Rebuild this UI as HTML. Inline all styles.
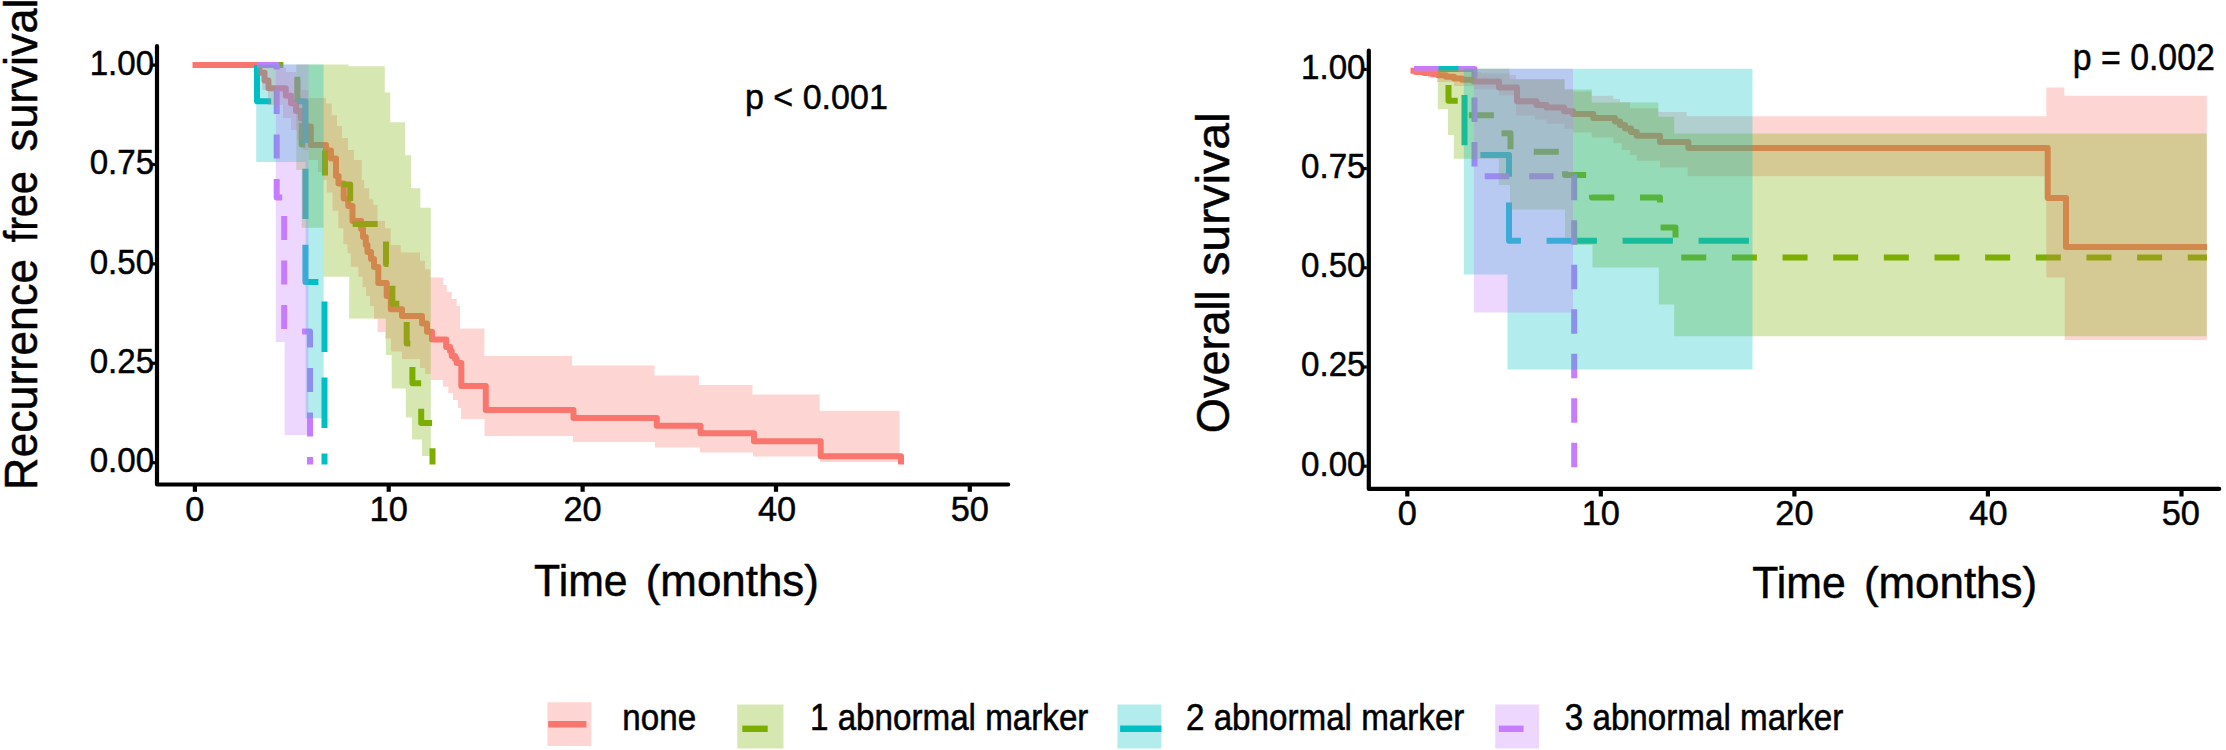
<!DOCTYPE html>
<html lang="en"><head><meta charset="utf-8"><title>Survival curves</title>
<style>html,body{margin:0;padding:0;background:#fff}body{width:2226px;height:750px;overflow:hidden}svg{display:block}</style></head>
<body>
<svg width="2226" height="750" viewBox="0 0 2226 750"><rect width="2226" height="750" fill="#fff"/>
<g fill="none" stroke-width="6.0" stroke-linejoin="round" stroke-linecap="butt">
<path d="M192.5 65.1H259.5V72.7H264.5V80.4H268.5V88.3H285.8V95.7H291V103.3H296V111H300.8V118.6H305V126.5H310.8V145H326V150.5H331V158.5H336V176H338.5V183.5H343.7V198.5H348.3V206H352.5V221H361.2V229H363V237H365.8V245H367.5V252H371V259H374V267H378.3V283H386.7V296H390.8V309.2H402V316H422V323.5H427V331.7H432V339.4H446.2V347H450V351H451.7V356H455V359H456.7V363H461.3V386H485.8V410H573.5V418H656.8V425.7H700.5V433.2H754V441.3H820.7V456.3H901V464.5" stroke="#F8766D"/>
<path d="M258.4 65.1H297.3V104.9H301.7V144.6H325V184.4H350.2V224.1H386V263.9H392.4V303.7H406.7V343.4H412.4V383.2H421.2V422.9H432.5V464.5" stroke="#7CAE00" stroke-dasharray="25 25.65"/>
<path d="M257 65.1V101.2H305.4V282H324.5V464.5" stroke="#00BFC4" stroke-dasharray="50.3 25.7"/>
<path d="M257 65.1H276.7V197.4H284.2V331.5H310V464.5" stroke="#C77CFF" stroke-dasharray="24 20.5"/>
<path d="M1410.5 70.8H1416V72H1424V73H1432V74H1438V75.2H1446V76.8H1454V78.4H1462V79.8H1474V81.5H1499V87.5H1517V101.2H1536.5V105H1546.5V107.5H1564V111.3H1573V114H1593.3V118H1615V121.5H1620V125H1625V128.5H1631V132H1636.7V135.8H1660V142H1688.3V148H2047.7V198H2066V247H2207" stroke="#F8766D"/>
<path d="M1414 68.9H1438.5V84.7H1448.5V100.8H1464V115.3H1499V133.3H1510.5V151.7H1565V175H1592V197.5H1660V227.5H1675.5V257.5H2207" stroke="#7CAE00" stroke-dasharray="25 25.65"/>
<path d="M1414.5 68.9H1464.5V155H1509V240.8H1752" stroke="#00BFC4" stroke-dasharray="50.3 25.7"/>
<path d="M1414 68.9H1474.5V176.2H1574.2V467.5" stroke="#C77CFF" stroke-dasharray="24.5 20"/>
</g>
<g stroke="none" fill-opacity="0.3">
<path d="M257 65.1L272 65.1L272 68L286 68L286 72L296 72L296 80L301 80L301 90L308.6 90L308.6 98L326 98L326 103.5L331.7 103.5L331.7 115.3L337 115.3L337 126L342 126L342 138L348 138L348 150L354 150L354 160L361.7 160L361.7 180L364.2 180L364.2 188.3L369.2 188.3L369.2 199.2L373.3 199.2L373.3 205L377.5 205L377.5 220.8L385 220.8L385 228.3L390.8 228.3L390.8 245L400.8 245L400.8 252.5L420 252.5L420 260.8L425 260.8L425 269.2L430.5 269.2L430.5 277.5L443.3 277.5L443.3 285L446.7 285L446.7 292L451.7 292L451.7 299L456.7 299L456.7 306L460 306L460 328.5L484.4 328.5L484.4 356L572 356L572 365.5L654.5 365.5L654.5 375.5L699 375.5L699 385L752.5 385L752.5 394.5L819.7 394.5L819.7 410.7L899.5 410.7L899.5 462L820 462L820 456.5L753 456.5L753 452.5L700 452.5L700 447.5L655 447.5L655 442L573 442L573 436L484.5 436L484.5 419L461 419L461 408L458 408L458 400L453 400L453 393L448.3 393L448.3 386.7L443 386.7L443 380L430.8 380L430.8 374L425 374L425 368L420 368L420 359L402 359L402 351.5L391 351.5L391 338.4L385.3 338.4L385.3 332L377.5 332L377.5 319L374 319L374 306L370 306L370 296L366 296L366 287L362.5 287L362.5 276.7L358.3 276.7L358.3 266.7L350.8 266.7L350.8 253.3L347.5 253.3L347.5 244.2L343.3 244.2L343.3 228.3L338.3 228.3L338.3 210.8L332.5 210.8L332.5 192.5L326.7 192.5L326.7 180L323.3 180L323.3 172L318 172L318 160L308.6 160L308.6 150L303 150L303 140L297 140L297 130L291 130L291 118L283 118L283 105L268 105L268 90L262 90L262 75L257 75Z" fill="#F8766D"/>
<path d="M296.3 64.6L348.5 64.6L348.5 66.2L384.8 66.2L384.8 92.4L390.3 92.4L390.3 122.3L405.2 122.3L405.2 155.2L411 155.2L411 188.2L420.4 188.2L420.4 207.8L430.8 207.8L430.8 456L422 456L422 439.5L412 439.5L412 417.5L405.8 417.5L405.8 388.5L391.7 388.5L391.7 355L385.8 355L385.8 318.5L349.2 318.5L349.2 276.7L323.5 276.7L323.5 227.7L301.7 227.7L301.7 170L296.3 170Z" fill="#7CAE00"/>
<path d="M256.2 64.6L323.6 64.6L323.6 418.3L305.6 418.3L305.6 162L256.2 162Z" fill="#00BFC4"/>
<path d="M275.8 64.6L308.5 64.6L308.5 435L284.6 435L284.6 342L275.8 342Z" fill="#C77CFF"/>
<path d="M1412 68.8L1437 68.8L1437 70L1463 70L1463 72L1481 72L1481 73.5L1509.5 73.5L1509.5 75L1516 75L1516 79.3L1564.6 79.3L1564.6 89.3L1573 89.3L1573 91.5L1591.7 91.5L1591.7 95.8L1613.3 95.8L1613.3 99L1620 99L1620 102L1630 102L1630 108.3L1658.3 108.3L1658.3 112L1686.7 112L1686.7 116.3L2046.3 116.3L2046.3 87.4L2064.4 87.4L2064.4 95.7L2206.8 95.7L2206.8 340L2064.7 340L2064.7 277.5L2046.3 277.5L2046.3 176.2L1687.5 176.2L1687.5 167.5L1660 167.5L1660 160.8L1636.7 160.8L1636.7 155L1630 155L1630 150L1621.7 150L1621.7 143.3L1613.3 143.3L1613.3 137.5L1591.7 137.5L1591.7 132.5L1573 132.5L1573 128.8L1564.6 128.8L1564.6 123.8L1546.5 123.8L1546.5 119.4L1535 119.4L1535 115.6L1516 115.6L1516 95.6L1499 95.6L1499 89.3L1474 89.3L1474 86L1454 86L1454 82L1437 82L1437 78L1428 78L1428 74.5L1412 74.5Z" fill="#F8766D"/>
<path d="M1437.8 68.8L1509.5 68.8L1509.5 79.3L1564.6 79.3L1564.6 89.5L1591.7 89.5L1591.7 102.5L1658.3 102.5L1658.3 116.7L1674.2 116.7L1674.2 133.5L2206.8 133.5L2206.8 336.3L1674.2 336.3L1674.2 304.5L1658.8 304.5L1658.8 267.5L1592.5 267.5L1592.5 245L1573 245L1573 237.5L1565 237.5L1565 209.5L1510 209.5L1510 185L1498.8 185L1498.8 158.8L1453.8 158.8L1453.8 135L1448 135L1448 109.3L1437.8 109.3Z" fill="#7CAE00"/>
<path d="M1463.8 68.7L1752.5 68.7L1752.5 369.5L1507.5 369.5L1507.5 274.5L1463.8 274.5Z" fill="#00BFC4"/>
<path d="M1473.8 68.7L1573 68.7L1573 312.5L1473.8 312.5Z" fill="#C77CFF"/>
</g>
<g stroke="#000" fill="none" stroke-linecap="butt">
<path d="M157 46.2V484.5H1008.2" stroke-width="4.2" stroke-linejoin="round" stroke-linecap="round"/>
<path d="M194.9 486V491.8" stroke-width="4.2"/>
<path d="M388.7 486V491.8" stroke-width="4.2"/>
<path d="M582.6 486V491.8" stroke-width="4.2"/>
<path d="M776 486V491.8" stroke-width="4.2"/>
<path d="M969.8 486V491.8" stroke-width="4.2"/>
<path d="M151.3 65.1H155" stroke-width="3.2"/>
<path d="M151.3 164.5H155" stroke-width="3.2"/>
<path d="M151.3 263.9H155" stroke-width="3.2"/>
<path d="M151.3 363.3H155" stroke-width="3.2"/>
<path d="M151.3 462.7H155" stroke-width="3.2"/>
<path d="M1368.8 50.6V488.9H2219.2" stroke-width="4.2" stroke-linejoin="round" stroke-linecap="round"/>
<path d="M1407.3 490.5V496.5" stroke-width="4.2"/>
<path d="M1600.8 490.5V496.5" stroke-width="4.2"/>
<path d="M1794.4 490.5V496.5" stroke-width="4.2"/>
<path d="M1987.9 490.5V496.5" stroke-width="4.2"/>
<path d="M2181.5 490.5V496.5" stroke-width="4.2"/>
<path d="M1363 69.4H1366.8" stroke-width="3.2"/>
<path d="M1363 168.6H1366.8" stroke-width="3.2"/>
<path d="M1363 267.8H1366.8" stroke-width="3.2"/>
<path d="M1363 367H1366.8" stroke-width="3.2"/>
<path d="M1363 466.2H1366.8" stroke-width="3.2"/>
</g>
<g>
<rect x="547.4" y="702.3" width="44" height="43.7" fill="#F8766D" fill-opacity="0.3"/>
<rect x="737.3" y="704.5" width="46.2" height="44" fill="#7CAE00" fill-opacity="0.3"/>
<rect x="1117.4" y="704.5" width="44" height="44" fill="#00BFC4" fill-opacity="0.3"/>
<rect x="1495.2" y="704.5" width="43.8" height="44" fill="#C77CFF" fill-opacity="0.3"/>
<g stroke-width="6.4" fill="none">
<path d="M548.2 724.3H586.4" stroke="#F8766D"/>
<path d="M742.3 728.8H767.7" stroke="#7CAE00"/>
<path d="M1120.1 728.8H1161.4" stroke="#00BFC4"/>
<path d="M1498.8 728.8H1523.6" stroke="#C77CFF"/>
</g></g>
<g font-family="'Liberation Sans', sans-serif" fill="#000" stroke="#000" stroke-width="0.5">
<g font-size="35.4" text-anchor="end">
<text x="154.2" y="74.7" textLength="64.5" lengthAdjust="spacingAndGlyphs">1.00</text>
<text x="154.2" y="174.1" textLength="64.5" lengthAdjust="spacingAndGlyphs">0.75</text>
<text x="154.2" y="273.5" textLength="64.5" lengthAdjust="spacingAndGlyphs">0.50</text>
<text x="154.2" y="372.9" textLength="64.5" lengthAdjust="spacingAndGlyphs">0.25</text>
<text x="154.2" y="472.3" textLength="64.5" lengthAdjust="spacingAndGlyphs">0.00</text>
<text x="1365.5" y="78.8" textLength="64.5" lengthAdjust="spacingAndGlyphs">1.00</text>
<text x="1365.5" y="178" textLength="64.5" lengthAdjust="spacingAndGlyphs">0.75</text>
<text x="1365.5" y="277.2" textLength="64.5" lengthAdjust="spacingAndGlyphs">0.50</text>
<text x="1365.5" y="376.4" textLength="64.5" lengthAdjust="spacingAndGlyphs">0.25</text>
<text x="1365.5" y="475.6" textLength="64.5" lengthAdjust="spacingAndGlyphs">0.00</text>
</g>
<g font-size="35.8" text-anchor="middle">
<text x="194.9" y="520.8" textLength="19.1" lengthAdjust="spacingAndGlyphs">0</text>
<text x="388.7" y="520.8" textLength="38.2" lengthAdjust="spacingAndGlyphs">10</text>
<text x="582.6" y="520.8" textLength="38.2" lengthAdjust="spacingAndGlyphs">20</text>
<text x="777" y="520.8" textLength="38.2" lengthAdjust="spacingAndGlyphs">40</text>
<text x="969.8" y="520.8" textLength="38.2" lengthAdjust="spacingAndGlyphs">50</text>
<text x="1407.3" y="524.7" textLength="19.1" lengthAdjust="spacingAndGlyphs">0</text>
<text x="1600.8" y="524.7" textLength="38.2" lengthAdjust="spacingAndGlyphs">10</text>
<text x="1794.4" y="524.7" textLength="38.2" lengthAdjust="spacingAndGlyphs">20</text>
<text x="1988.4" y="524.7" textLength="38.2" lengthAdjust="spacingAndGlyphs">40</text>
<text x="2180.8" y="524.7" textLength="38.2" lengthAdjust="spacingAndGlyphs">50</text>
</g>
<text font-size="44.3" y="596"><tspan x="534.1" textLength="93.5" lengthAdjust="spacingAndGlyphs">Time</tspan> <tspan x="645.7" textLength="173.2" lengthAdjust="spacingAndGlyphs">(months)</tspan></text>
<text font-size="44.3" y="597.6"><tspan x="1752.3" textLength="93.5" lengthAdjust="spacingAndGlyphs">Time</tspan> <tspan x="1863.9" textLength="173.2" lengthAdjust="spacingAndGlyphs">(months)</tspan></text>
<text font-size="45.5" transform="translate(37.3 0) rotate(-90)" lengthAdjust="spacingAndGlyphs"><tspan x="-489.9" textLength="231" lengthAdjust="spacingAndGlyphs">Recurrence</tspan> <tspan x="-242.2" textLength="71" lengthAdjust="spacingAndGlyphs">free</tspan> <tspan x="-151.4" textLength="153" lengthAdjust="spacingAndGlyphs">survival</tspan></text>
<text font-size="46.5" transform="translate(1229 0) rotate(-90)"><tspan x="-433.2" textLength="142.8" lengthAdjust="spacingAndGlyphs">Overall</tspan> <tspan x="-275.8" textLength="163.6" lengthAdjust="spacingAndGlyphs">survival</tspan></text>
<text font-size="35.3" x="745" y="108.7" textLength="142.8" lengthAdjust="spacingAndGlyphs">p &lt; 0.001</text>
<text font-size="36" x="2072.8" y="70.3" textLength="142" lengthAdjust="spacingAndGlyphs">p = 0.002</text>
<text font-size="33.2" transform="translate(622.3 730) scale(1 1.1)">none</text>
<text font-size="33.2" transform="translate(810 730) scale(1 1.1)">1 abnormal marker</text>
<text font-size="33.2" transform="translate(1186 730) scale(1 1.1)">2 abnormal marker</text>
<text font-size="33.2" transform="translate(1564.8 730) scale(1 1.1)">3 abnormal marker</text>
</g>
</svg>
</body></html>
